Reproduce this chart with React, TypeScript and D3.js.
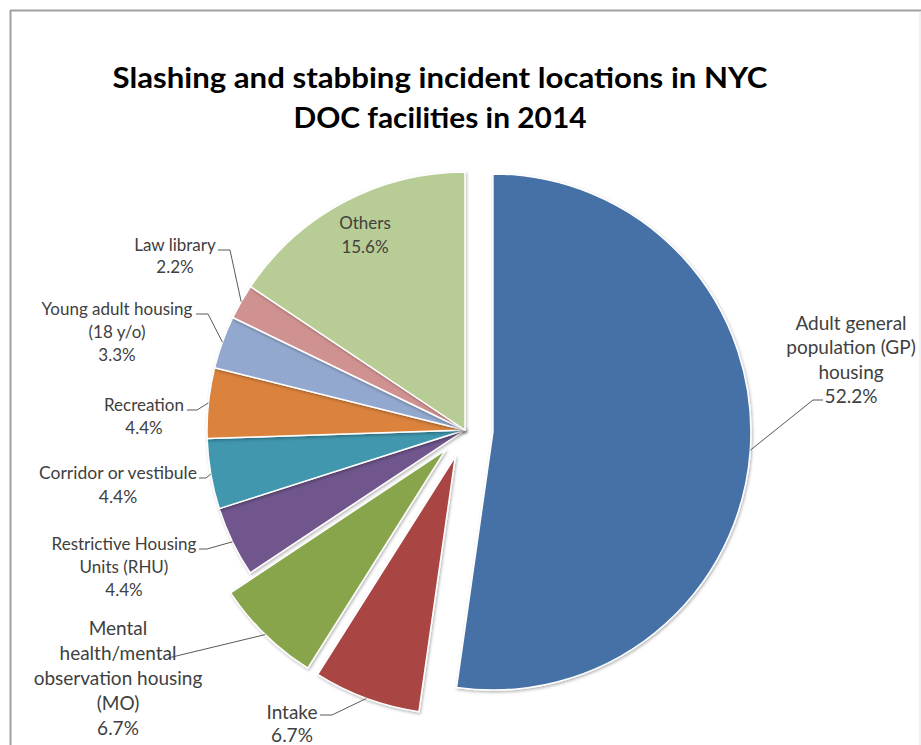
import React, { useEffect, useRef } from 'react';
import * as d3 from 'd3';

const categories = [
  'Adult general population (GP) housing',
  'Intake',
  'Mental health/mental observation housing (MO)',
  'Restrictive Housing Units (RHU)',
  'Corridor or vestibule',
  'Recreation',
  'Young adult housing (18 y/o)',
  'Law library',
  'Others',
];
const values = [52.2, 6.7, 6.7, 4.4, 4.4, 4.4, 3.3, 2.2, 15.6];
const colors = ['#4471A6', '#A94442', '#88A54C', '#6F568D', '#4097AE', '#DB833C', '#93A8CE', '#D09291', '#B8CC95'];
const exploded = [true, true, true, false, false, false, false, false, false];

// label text lines (wrapped as in the original)
const labelLines = [
  ['Adult general', 'population (GP)', 'housing', '52.2%'],
  ['Intake', '6.7%'],
  ['Mental', 'health/mental', 'observation housing', '(MO)', '6.7%'],
  ['Restrictive Housing', 'Units (RHU)', '4.4%'],
  ['Corridor or vestibule', '4.4%'],
  ['Recreation', '4.4%'],
  ['Young adult housing', '(18 y/o)', '3.3%'],
  ['Law library', '2.2%'],
  ['Others', '15.6%'],
];

const title = ['Slashing and stabbing incident locations in NYC', 'DOC facilities in 2014'];

const App = () => {
  const svgRef = useRef(null);

  useEffect(() => {
    const svg = d3.select(svgRef.current);
    svg.selectAll('*').remove();

    const W = 921;
    const H = 745;
    const cx = 465;
    const cy = 430;
    const radius = 258;
    const explode = 28;

    const defs = svg.append('defs');
    const f = defs.append('filter').attr('id', 'shadow').attr('x', '-20%').attr('y', '-20%').attr('width', '140%').attr('height', '140%');
    f.append('feDropShadow')
      .attr('dx', 1).attr('dy', 1.5).attr('stdDeviation', 1.5)
      .attr('flood-color', '#000').attr('flood-opacity', 0.3);

    svg.append('rect').attr('width', W).attr('height', H).attr('fill', '#fff');

    // frame
    svg.append('line').attr('x1', 10.5).attr('x2', 10.5).attr('y1', 10).attr('y2', H)
      .attr('stroke', '#a0a0a0').attr('stroke-width', 2);
    svg.append('line').attr('x1', 10).attr('x2', W).attr('y1', 10.5).attr('y2', 10.5)
      .attr('stroke', '#a0a0a0').attr('stroke-width', 2);
    svg.append('line').attr('x1', 920).attr('x2', 920).attr('y1', 11).attr('y2', H)
      .attr('stroke', '#e2e2e2').attr('stroke-width', 1);

    // title
    svg.append('text')
      .attr('x', 440).attr('y', 88)
      .attr('text-anchor', 'middle')
      .attr('textLength', 655).attr('lengthAdjust', 'spacingAndGlyphs')
      .style('font-family', 'Lato, sans-serif').style('font-weight', 'bold').style('font-size', '28px')
      .attr('fill', '#000')
      .text(title[0]);
    svg.append('text')
      .attr('x', 440).attr('y', 128)
      .attr('text-anchor', 'middle')
      .attr('textLength', 293).attr('lengthAdjust', 'spacingAndGlyphs')
      .style('font-family', 'Lato, sans-serif').style('font-weight', 'bold').style('font-size', '28px')
      .attr('fill', '#000')
      .text(title[1]);

    const data = categories.map((c, i) => ({ name: c, value: values[i], i }));
    const pie = d3.pie().value(d => d.value).sort(null).startAngle(0).endAngle(2 * Math.PI);
    const arcs = pie(data);
    const arc = d3.arc().innerRadius(0).outerRadius(radius);

    const offsetOf = a => {
      if (!exploded[a.data.i]) return [0, 0];
      const mid = (a.startAngle + a.endAngle) / 2;
      return [Math.sin(mid) * explode, -Math.cos(mid) * explode];
    };

    const g = svg.append('g').attr('transform', `translate(${cx},${cy})`);

    g.selectAll('path.slice')
      .data(arcs)
      .enter().append('path')
      .attr('class', 'slice')
      .attr('transform', d => { const o = offsetOf(d); return `translate(${o[0]},${o[1]})`; })
      .attr('d', arc)
      .attr('fill', d => colors[d.data.i])
      .attr('stroke', '#fff')
      .attr('stroke-width', 1.5)
      .attr('stroke-linejoin', 'round')
      .attr('filter', 'url(#shadow)');

    // label layout: centre x, first line centre y, line height, font size, leader start
    const layout = [
      { x: 851, y: 323, lh: 24.5, fs: 19, lead: [823, 400, -10] },
      { x: 292, y: 712, lh: 23, fs: 19, lead: [320, 715, 12] },
      { x: 118, y: 628, lh: 25, fs: 19, lead: [168, 658, 0] },
      { x: 124, y: 544, lh: 23, fs: 17, lead: [199, 549, 8] },
      { x: 118, y: 473, lh: 24, fs: 17.5, lead: [199, 478, 7] },
      { x: 144, y: 405, lh: 23, fs: 17, lead: [187, 410, 10] },
      { x: 117, y: 309, lh: 23, fs: 17, lead: [196, 314, 12] },
      { x: 175, y: 245, lh: 22, fs: 17, lead: [218, 250, 12] },
      { x: 365, y: 223, lh: 24, fs: 17, lead: null },
    ];

    const lg = svg.append('g');
    arcs.forEach(a => {
      const L = layout[a.data.i];
      if (L.lead) {
        const o = offsetOf(a);
        const mid = (a.startAngle + a.endAngle) / 2;
        const ax = cx + o[0] + Math.sin(mid) * radius;
        const ay = cy + o[1] - Math.cos(mid) * radius;
        const [sx, sy, h] = L.lead;
        lg.append('path')
          .attr('d', d3.line()([[sx, sy], [sx + h, sy], [ax, ay]]))
          .attr('fill', 'none')
          .attr('stroke', '#595959')
          .attr('stroke-width', 1);
      }
      const t = lg.append('text')
        .attr('text-anchor', 'middle')
        .style('font-family', 'Lato, sans-serif')
        .style('font-size', `${L.fs}px`)
        .attr('fill', '#404040');
      labelLines[a.data.i].forEach((line, k) => {
        t.append('tspan')
          .attr('x', L.x)
          .attr('y', L.y + k * L.lh)
          .attr('dy', '0.35em')
          .text(line);
      });
    });
  }, []);

  return (
    <svg
      ref={svgRef}
      width={921}
      height={745}
      style={{ position: 'absolute', left: 0, top: 0, display: 'block' }}
    ></svg>
  );
};

export default App;
